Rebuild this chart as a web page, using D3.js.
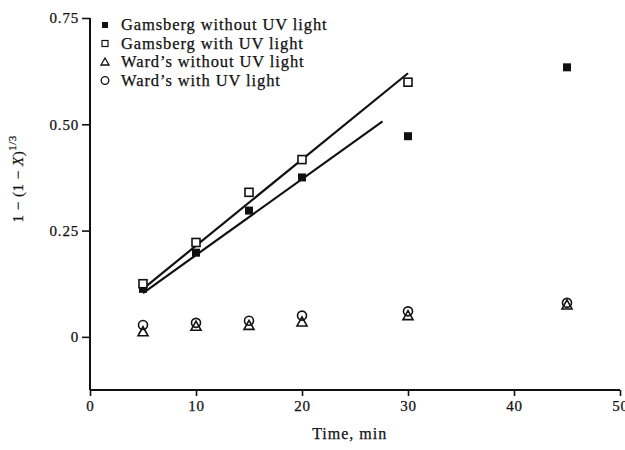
<!DOCTYPE html>
<html>
<head>
<meta charset="utf-8">
<script src="https://cdn.jsdelivr.net/npm/d3@7"></script>
<style>
  body { margin: 0; background: #fff; }
  svg text { font-family: "Liberation Serif", "DejaVu Serif", serif; fill: #111; stroke: #111; stroke-width: 0.25px; }
</style>
</head>
<body>
<div class="chart"></div>
<script>
// values
const times = [5, 10, 15, 20, 30, 45];
const gamsNoUV = [0.113, 0.198, 0.297, 0.375, 0.472, 0.634];
const gamsUV = [0.125, 0.222, 0.34, 0.417, 0.599];
const wardNoUV = [0.012, 0.025, 0.027, 0.035, 0.05, 0.075];
const wardUV = [0.028, 0.033, 0.038, 0.05, 0.06, 0.08];

// fitted lines (start / end points as drawn)
const fitUV = [[5, 0.113], [30, 0.62]];
const fitNoUV = [[5, 0.103], [27.6, 0.507]];

const xTicks = [0, 10, 20, 30, 40, 50];
const yTicks = [0, 0.25, 0.5, 0.75];

const legendNames = ['Gamsberg without UV light', 'Gamsberg with UV light', "Ward\u2019s without UV light", "Ward\u2019s with UV light"];

const margin = { top: 18, right: 5, bottom: 60, left: 90 };
const W = 625, H = 450;
const width = W - margin.left - margin.right; // 530
const height = H - margin.top - margin.bottom; // 372

const x = d3.scaleLinear().domain([0, 50]).range([0, width]);
const y = d3.scaleLinear().domain([-0.125, 0.75]).range([height, 0]);

const svg = d3.select('.chart').append('svg')
  .attr('width', W).attr('height', H)
  .append('g')
  .attr('transform', 'translate(' + margin.left + ',' + margin.top + ')');

//axes
const xAxis = d3.axisBottom(x).tickValues(xTicks).tickSize(6).tickPadding(4).tickFormat(d3.format('d'));
const yAxis = d3.axisLeft(y).tickValues(yTicks).tickSize(8).tickPadding(3)
  .tickFormat(d => d === 0 ? '0' : d3.format('.2f')(d));

const gx = svg.append('g').attr('transform', 'translate(0,' + height + ')').call(xAxis);
const gy = svg.append('g').call(yAxis);
[gx, gy].forEach(g => {
  g.select('.domain').attr('stroke', '#111').attr('stroke-width', 2)
  g.selectAll('.tick line').attr('stroke', '#111').attr('stroke-width', 1.6);
  g.selectAll('.tick text').style('font-size', '15px').style('letter-spacing', '0.8px').attr('fill', '#111');
});
// plain lines, no outer end caps
gx.select('.domain').attr('d', 'M0,0H' + width);
gy.select('.domain').attr('d', 'M0,' + height + 'V0');

svg.append('text')
  .attr('x', x(24.5)).attr('y', height + 49)
  .attr('text-anchor', 'middle')
  .style('font-size', '16px')
  .style('letter-spacing', '1px')
  .text('Time, min');

const ylab = svg.append('text')
  .attr('transform', 'translate(' + (-67) + ',' + (y(0.4) + 12) + ') rotate(-90)')
  .attr('text-anchor', 'middle')
  .style('font-size', '15px')
  .style('letter-spacing', '0.5px');
ylab.append('tspan').text('1 \u2212 (1 \u2212 ');
ylab.append('tspan').style('font-style', 'italic').text('X');
ylab.append('tspan').text(')');
ylab.append('tspan').attr('dy', -7).style('font-size', '11px').text('1/3');

// fitted lines
const line = d3.line().x(d => x(d[0])).y(d => y(d[1]));
[fitUV, fitNoUV].forEach(f => {
  svg.append('path').attr('d', line(f)).attr('fill', 'none').attr('stroke', '#111').attr('stroke-width', 2.2);
});

// marker drawing
function marker(g, type, cx, cy) {
  if (type === 'fsq') {
    g.append('rect').attr('x', cx - 4).attr('y', cy - 4).attr('width', 8).attr('height', 8).attr('fill', '#111');
  } else if (type === 'osq') {
    g.append('rect').attr('x', cx - 4).attr('y', cy - 4).attr('width', 8).attr('height', 8)
      .attr('fill', '#fff').attr('stroke', '#111').attr('stroke-width', 1.6);
  } else if (type === 'tri') {
    g.append('path').attr('d', `M${cx},${cy - 5}L${cx + 5},${cy + 4}L${cx - 5},${cy + 4}Z`)
      .attr('fill', 'none').attr('stroke', '#111').attr('stroke-width', 1.6);
  } else {
    g.append('circle').attr('cx', cx).attr('cy', cy).attr('r', 4.5)
      .attr('fill', 'none').attr('stroke', '#111').attr('stroke-width', 1.6);
  }
}

const series = [
  { type: 'tri', vals: wardNoUV },
  { type: 'circ', vals: wardUV },
  { type: 'fsq', vals: gamsNoUV },
  { type: 'osq', vals: gamsUV }
];
series.forEach(s => {
  const g = svg.append('g');
  s.vals.forEach((v, i) => marker(g, s.type, x(times[i]), y(v)));
});

// legend
const legTypes = ['fsq', 'osq', 'tri', 'circ'];
const leg = svg.append('g').attr('transform', 'translate(' + 15 + ',' + 7 + ')');
legendNames.forEach((name, i) => {
  const yy = i * 18.5;
  if (legTypes[i] === 'fsq') {
    leg.append('rect').attr('x', -3).attr('y', yy - 3).attr('width', 6).attr('height', 6).attr('fill', '#111');
  } else if (legTypes[i] === 'osq') {
    leg.append('rect').attr('x', -3).attr('y', yy - 3).attr('width', 6).attr('height', 6)
      .attr('fill', '#fff').attr('stroke', '#111').attr('stroke-width', 1.2);
  } else if (legTypes[i] === 'tri') {
    leg.append('path').attr('d', `M0,${yy - 4}L4,${yy + 3}L-4,${yy + 3}Z`)
      .attr('fill', 'none').attr('stroke', '#111').attr('stroke-width', 1.3);
  } else {
    leg.append('circle').attr('cx', 0).attr('cy', yy).attr('r', 3.8)
      .attr('fill', 'none').attr('stroke', '#111').attr('stroke-width', 1.3);
  }
  leg.append('text').attr('x', 16).attr('y', yy + 5).style('font-size', '16.5px').style('letter-spacing', '0.9px').text(name);
});
</script>
</body>
</html>
